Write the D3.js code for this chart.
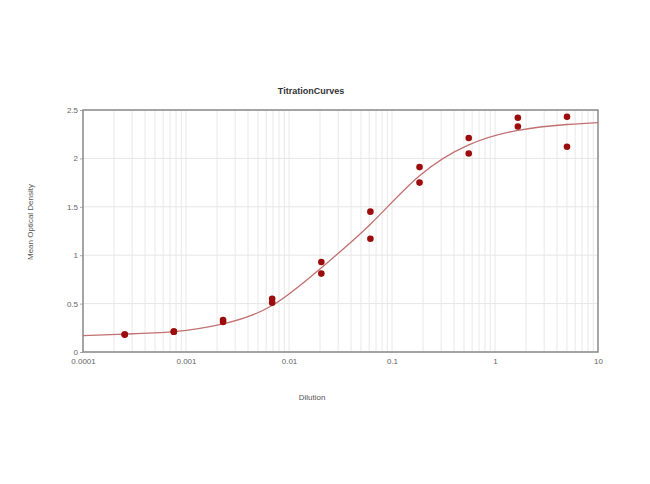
<!DOCTYPE html>
<html><head><meta charset="utf-8">
<script src="https://cdn.jsdelivr.net/npm/d3@7"></script>
<style>body{margin:0;background:#fff}svg{display:block}text{font-family:"Liberation Sans",Arial,sans-serif}</style>
</head><body><svg id="c" width="650" height="484"></svg>
<script>
const title = "TitrationCurves";
const xTitle = "Dilution";
const yTitle = "Mean Optical Density";
const xTicks = [0.0001, 0.001, 0.01, 0.1, 1, 10];
const xTickLabels = ["0.0001", "0.001", "0.01", "0.1", "1", "10"];
const yTicks = [0, 0.5, 1, 1.5, 2, 2.5];
const dilutions = [0.000254, 0.000762, 0.00229, 0.00686, 0.0206, 0.0617, 0.185, 0.556, 1.667, 5];
const rep1 = [0.18, 0.21, 0.33, 0.55, 0.93, 1.45, 1.91, 2.21, 2.42, 2.43];
const rep2 = [0.18, 0.21, 0.31, 0.51, 0.81, 1.17, 1.75, 2.05, 2.33, 2.12];
const curveX = [0.0001, 0.000254, 0.000762, 0.00229, 0.00686, 0.0206, 0.0617, 0.185, 0.556, 1.667, 5, 10];
const curveY = [0.17, 0.185, 0.21, 0.29, 0.48, 0.87, 1.32, 1.82, 2.14, 2.29, 2.35, 2.37];

const svg = d3.select("#c");
const L = 83, R = 598, T = 110, B = 352;
const x = d3.scaleLog().domain([0.0001, 10]).range([L, R]);
const y = d3.scaleLinear().domain([0, 2.5]).range([B, T]);

// minor + major x grid
const minor = [];
for (let e = -4; e < 1; e++) for (let k = 1; k <= 9; k++) minor.push(k * Math.pow(10, e));
svg.append("g").selectAll("line").data(minor).join("line")
  .attr("x1", d => x(d)).attr("x2", d => x(d)).attr("y1", T).attr("y2", B)
  .attr("stroke", "#e8e8e8").attr("stroke-width", 1);
svg.append("g").selectAll("line").data(yTicks).join("line")
  .attr("x1", L).attr("x2", R).attr("y1", d => y(d)).attr("y2", d => y(d))
  .attr("stroke", "#e6e6e6").attr("stroke-width", 1);

// axes
const xAxis = d3.axisBottom(x).tickValues(xTicks).tickFormat((d, i) => xTickLabels[i]).tickSize(0).tickPadding(6);
const gx = svg.append("g").attr("transform", `translate(0,${B})`).call(xAxis);
gx.select(".domain").remove();
gx.selectAll("text").attr("font-size", 8).attr("fill", "#666");
const yAxis = d3.axisLeft(y).tickValues(yTicks).tickFormat(d3.format("")).tickSize(3).tickPadding(2);
const gy = svg.append("g").attr("transform", `translate(${L},0)`).call(yAxis);
gy.select(".domain").remove();
gy.selectAll("line").attr("stroke", "#aaa");
gy.selectAll("text").attr("font-size", 8).attr("fill", "#666");

// frame
svg.append("rect").attr("x", L).attr("y", T).attr("width", R - L).attr("height", B - T)
  .attr("fill", "none").attr("stroke", "#8a8a8a").attr("stroke-width", 1.5);

// curve
const line = d3.line().x((d, i) => x(curveX[i])).y(d => y(d)).curve(d3.curveNatural);
svg.append("path").attr("d", line(curveY)).attr("fill", "none")
  .attr("stroke", "#c27070").attr("stroke-width", 1.3);

// points
[rep1, rep2].forEach(rep => {
  svg.append("g").selectAll("circle").data(rep).join("circle")
    .attr("cx", (d, i) => x(dilutions[i])).attr("cy", d => y(d)).attr("r", 3.3)
    .attr("fill", "#9c0c0c");
});

// titles
svg.append("text").attr("x", 311).attr("y", 94).attr("text-anchor", "middle")
  .attr("font-size", 9).attr("font-weight", "bold").attr("fill", "#333").text(title);
svg.append("text").attr("x", 312).attr("y", 400).attr("text-anchor", "middle")
  .attr("font-size", 8).attr("fill", "#555").text(xTitle);
svg.append("text").attr("transform", "translate(33,222) rotate(-90)").attr("text-anchor", "middle")
  .attr("font-size", 8).attr("fill", "#555").text(yTitle);
</script></body></html>
